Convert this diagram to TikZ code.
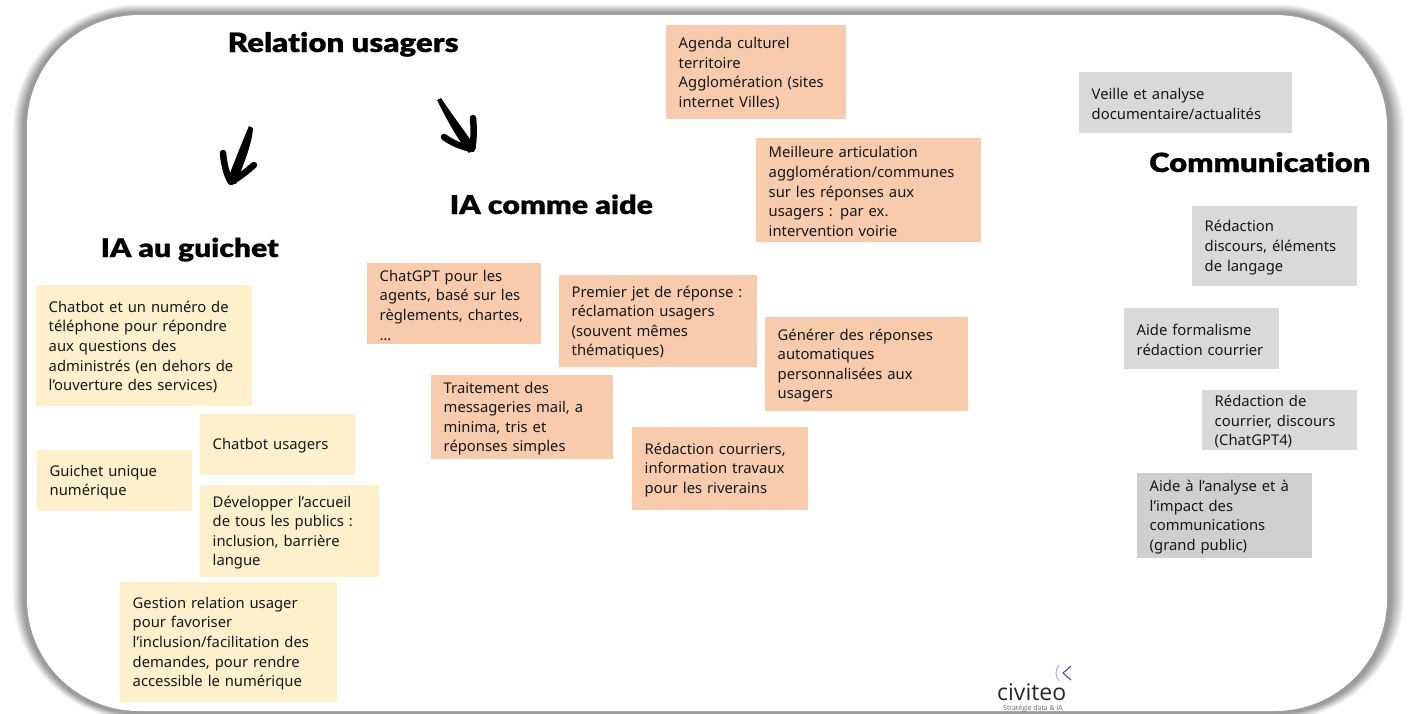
\documentclass[tikz,border=0pt]{standalone}
\usepackage{fontspec}
\setmainfont[WordSpace=0.65]{Noto Sans}
\newfontfamily\headfont[FakeStretch=1.17,FakeBold=0.4,Ligatures=NoCommon]{Lato Black}
\newfontfamily\logofont{Open Sans}
\definecolor{noteyellow}{HTML}{FFF0CC}
\definecolor{noteorange}{HTML}{F7CBAC}
\definecolor{notegray}{HTML}{D9D9D9}
\definecolor{notegraydark}{HTML}{D0CECE}
\definecolor{inktext}{HTML}{14181D}
\tikzset{
  x=1pt,y=-1pt,
  note/.style={anchor=north west,inner xsep=12.5pt,inner ysep=0pt,align=left,
    font=\fontsize{14.8}{19.6}\selectfont,text=inktext,
    execute at begin node={\rule{0pt}{14pt}}},
  yellownote/.style={note,fill=noteyellow},
  orangenote/.style={note,fill=noteorange},
  graynote/.style={note,fill=notegray},
  darkgraynote/.style={note,fill=notegraydark},
  heading/.style={anchor=base west,inner sep=0pt,font=\headfont,text=black},
  inkarrow/.style={line width=6.5pt,line cap=round,line join=round,draw=black},
}
\begin{document}
\begin{tikzpicture}
\useasboundingbox (0,0) rectangle (1411,713);
% soft shadow of the frame
\foreach \i in {16,...,0}{
  \pgfmathsetmacro{\tone}{39*min(1,(16-\i)/12)}
  \pgfmathsetmacro{\lx}{27-\i*0.95}
  \pgfmathsetmacro{\rx}{1387+\i*1.15}
  \pgfmathsetmacro{\ty}{15-\i*0.7}
  \pgfmathsetmacro{\by}{712+\i*0.5}
  \pgfmathsetmacro{\rad}{112+\i*0.9}
  \fill[black!\tone!white,rounded corners=\rad pt]
    (\lx,\ty) rectangle (\rx,\by);
}
\fill[white,rounded corners=112pt] (27,15) rectangle (1387,711);
% headings
\node[heading] (relation) at (227.5,52) {\fontsize{26.7}{30}\selectfont Relation usagers};
\node[heading] (comme) at (449.5,214) {\fontsize{26}{30}\selectfont IA comme aide};
\node[heading] (guichet) at (100.5,257) {\fontsize{25.7}{30}\selectfont IA au guichet};
\node[heading] (communication) at (1149,172) {\fontsize{26.5}{30}\selectfont Communication};
% hand drawn arrows
\coordinate (g0) at (251,127);
\coordinate (g1) at (231,182);
\coordinate (g2) at (223,153);
\coordinate (g3) at (254,165);
\coordinate (c0) at (439,99);
\coordinate (c1) at (472,149);
\coordinate (c2) at (444,137);
\coordinate (c3) at (473,118);
\fill[black] (g0) ++(-2,-1) .. controls (243,140) and (233,165) .. (227,181) -- (236,184) .. controls (243,165) and (252,145) .. (253,128) -- cycle;
\draw[inkarrow] (g2) .. controls (224,165) and (227,176) .. (g1) .. controls (240,177) and (247,171) .. (g3);
\fill[black] (c0) ++(-2,1) .. controls (448,122) and (458,140) .. (469,153) -- (476,148) .. controls (464,130) and (450,112) .. (441,98) -- cycle;
\draw[inkarrow] (c2) .. controls (452,143) and (462,147) .. (c1) .. controls (474,140) and (474,128) .. (c3);
% yellow notes
\node[yellownote,text width=191pt,minimum height=121pt] (y1) at (36,285) {Chatbot et un numéro de\\téléphone pour répondre\\aux questions des\\administrés (en dehors de\\l’ouverture des services)};
\node[yellownote,text width=130pt,minimum height=61pt] (y2) at (200,414) {Chatbot usagers};
\node[yellownote,text width=130pt,minimum height=61pt] (y3) at (37,450) {Guichet unique\\numérique};
\node[yellownote,text width=154pt,minimum height=92pt] (y4) at (200,485) {Développer l’accueil\\de tous les publics :\\inclusion, barrière\\langue};
\node[yellownote,text width=192pt,minimum height=120pt] (y5) at (120,582) {Gestion relation usager\\pour favoriser\\l’inclusion/facilitation des\\demandes, pour rendre\\accessible le numérique};
% orange notes
\node[orangenote,text width=149pt,minimum height=81pt] (o1) at (367,263) {ChatGPT pour les\\agents, basé sur les\\règlements, chartes,\\…};
\node[orangenote,text width=173pt,minimum height=92pt] (o2) at (559,275) {Premier jet de réponse :\\réclamation usagers\\(souvent mêmes\\thématiques)};
\node[orangenote,text width=157pt,minimum height=84pt] (o3) at (431,375) {Traitement des\\messageries mail, a\\minima, tris et\\réponses simples};
\node[orangenote,text width=178pt,minimum height=94pt] (o4) at (765,317) {Générer des réponses\\automatiques\\personnalisées aux\\usagers};
\node[orangenote,text width=151pt,minimum height=83pt] (o5) at (632,427) {Rédaction courriers,\\information travaux\\pour les riverains};
\node[orangenote,text width=155pt,minimum height=94pt] (o6) at (666,25) {Agenda culturel\\territoire\\Agglomération (sites\\internet Villes)};
\node[orangenote,text width=200pt,minimum height=104pt] (o7) at (756,138) {Meilleure articulation\\agglomération/communes\\sur les réponses aux\\usagers : par ex.\\intervention voirie};
% gray notes
\node[graynote,text width=188pt,minimum height=61pt,execute at begin node={\rule{0pt}{11pt}}] (n1) at (1079,72) {Veille et analyse\\documentaire/actualités};
\node[graynote,text width=140pt,minimum height=80pt] (n2) at (1192,206) {Rédaction\\discours, éléments\\de langage};
\node[graynote,text width=130pt,minimum height=61pt] (n3) at (1124,308) {Aide formalisme\\rédaction courrier};
\node[graynote,text width=130pt,minimum height=60pt] (n4) at (1202,390) {Rédaction de\\courrier, discours\\(ChatGPT4)};
\node[darkgraynote,text width=150pt,minimum height=85pt] (n5) at (1137,473) {Aide à l’analyse et à\\l’impact des\\communications\\(grand public)};
% logo
\draw[gray!70,line width=0.8pt] (1059,665) .. controls (1055,670) and (1055,676) .. (1059,681);
\draw[blue!60!black!70!white,line width=1.1pt] (1071,666) -- (1063,673) -- (1071,680);
\node[anchor=base west,inner sep=0pt,font=\logofont\fontsize{23}{24}\selectfont,text=black!85] (logo) at (997,700) {civiteo};
\node[anchor=base west,inner sep=0pt,font=\logofont\fontsize{6.9}{8}\selectfont,text=black!60] (tagline) at (1003,710) {Stratégie data \& IA};
\end{tikzpicture}
\end{document}
